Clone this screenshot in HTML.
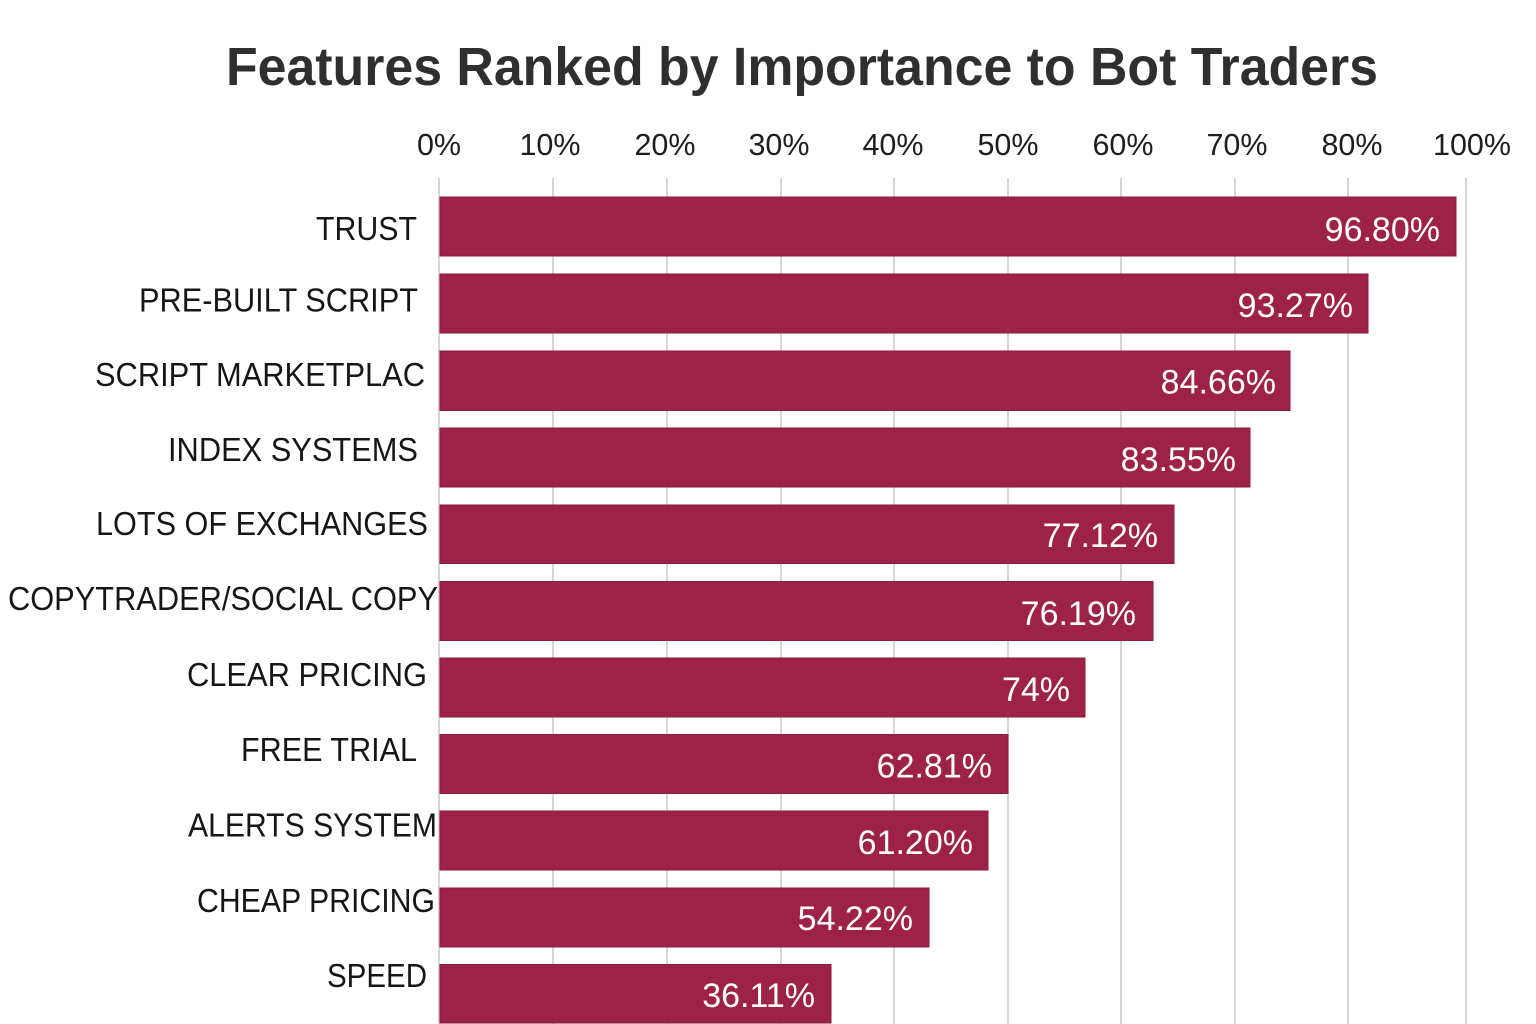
<!DOCTYPE html>
<html>
<head>
<meta charset="utf-8">
<style>
  html, body { margin: 0; padding: 0; background: #ffffff; }
  body { width: 1536px; height: 1024px; overflow: hidden; }
  svg { display: block; }
  text { font-family: "Liberation Sans", Arial, sans-serif; }
</style>
</head>
<body>
<svg width="1536" height="1024" viewBox="0 0 1536 1024" xmlns="http://www.w3.org/2000/svg">
  <rect x="0" y="0" width="1536" height="1024" fill="#ffffff"/>

  <!-- Title -->
  <text x="226" y="85" font-size="54" font-weight="bold" fill="#2f2f2f" textLength="1152" lengthAdjust="spacingAndGlyphs">Features Ranked by Importance to Bot Traders</text>

  <!-- Tick labels -->
  <g font-size="30.5" fill="#1e1e1e" text-anchor="middle">
    <text x="439" y="155">0%</text>
    <text x="550" y="155">10%</text>
    <text x="665" y="155">20%</text>
    <text x="779" y="155">30%</text>
    <text x="893" y="155">40%</text>
    <text x="1008" y="155">50%</text>
    <text x="1123" y="155">60%</text>
    <text x="1237" y="155">70%</text>
    <text x="1352" y="155">80%</text>
    <text x="1472" y="155">100%</text>
  </g>

  <!-- Gridlines -->
  <g stroke="#c9c9c9" stroke-width="1.5">
    <line x1="439" y1="178" x2="439" y2="1024"/>
    <line x1="553" y1="178" x2="553" y2="1024"/>
    <line x1="667" y1="178" x2="667" y2="1024"/>
    <line x1="781" y1="178" x2="781" y2="1024"/>
    <line x1="894" y1="178" x2="894" y2="1024"/>
    <line x1="1008" y1="178" x2="1008" y2="1024"/>
    <line x1="1121" y1="178" x2="1121" y2="1024"/>
    <line x1="1235" y1="178" x2="1235" y2="1024"/>
    <line x1="1348" y1="178" x2="1348" y2="1024"/>
    <line x1="1466" y1="178" x2="1466" y2="1024"/>
  </g>

  <!-- Bars -->
  <g fill="#9e2148" stroke="#8c1a3e" stroke-width="1">
    <rect x="440" y="197" width="1016" height="59"/>
    <rect x="440" y="274" width="928" height="59"/>
    <rect x="440" y="351" width="850" height="59.5"/>
    <rect x="440" y="428" width="810" height="59"/>
    <rect x="440" y="505" width="734" height="58.5"/>
    <rect x="440" y="581.5" width="713" height="59"/>
    <rect x="440" y="658" width="645" height="59"/>
    <rect x="440" y="734.5" width="568" height="59"/>
    <rect x="440" y="811" width="548" height="59"/>
    <rect x="440" y="888" width="489" height="59"/>
    <rect x="440" y="964.5" width="391" height="58.5"/>
  </g>

  <!-- Value labels -->
  <g font-size="34" fill="#ffffff" text-anchor="end">
    <text x="1440" y="241">96.80%</text>
    <text x="1353" y="317">93.27%</text>
    <text x="1276" y="393.5">84.66%</text>
    <text x="1236" y="471">83.55%</text>
    <text x="1158" y="547">77.12%</text>
    <text x="1136" y="625">76.19%</text>
    <text x="1070" y="701">74%</text>
    <text x="992" y="777.5">62.81%</text>
    <text x="973" y="854">61.20%</text>
    <text x="913" y="930">54.22%</text>
    <text x="815" y="1007">36.11%</text>
  </g>

  <!-- Category labels -->
  <g font-size="33" fill="#161616">
    <text x="316" y="240" textLength="101" lengthAdjust="spacingAndGlyphs">TRUST</text>
    <text x="139" y="311.5" textLength="279" lengthAdjust="spacingAndGlyphs">PRE-BUILT SCRIPT</text>
    <text x="95" y="386" textLength="330" lengthAdjust="spacingAndGlyphs">SCRIPT MARKETPLAC</text>
    <text x="168" y="461" textLength="250" lengthAdjust="spacingAndGlyphs">INDEX SYSTEMS</text>
    <text x="96" y="535" textLength="332" lengthAdjust="spacingAndGlyphs">LOTS OF EXCHANGES</text>
    <text x="8" y="610" textLength="430" lengthAdjust="spacingAndGlyphs">COPYTRADER/SOCIAL COPY</text>
    <text x="187" y="686" textLength="240" lengthAdjust="spacingAndGlyphs">CLEAR PRICING</text>
    <text x="241" y="761" textLength="176" lengthAdjust="spacingAndGlyphs">FREE TRIAL</text>
    <text x="188" y="836.5" textLength="249" lengthAdjust="spacingAndGlyphs">ALERTS SYSTEM</text>
    <text x="197" y="912" textLength="238" lengthAdjust="spacingAndGlyphs">CHEAP PRICING</text>
    <text x="327" y="987" textLength="100" lengthAdjust="spacingAndGlyphs">SPEED</text>
  </g>
</svg>
</body>
</html>
